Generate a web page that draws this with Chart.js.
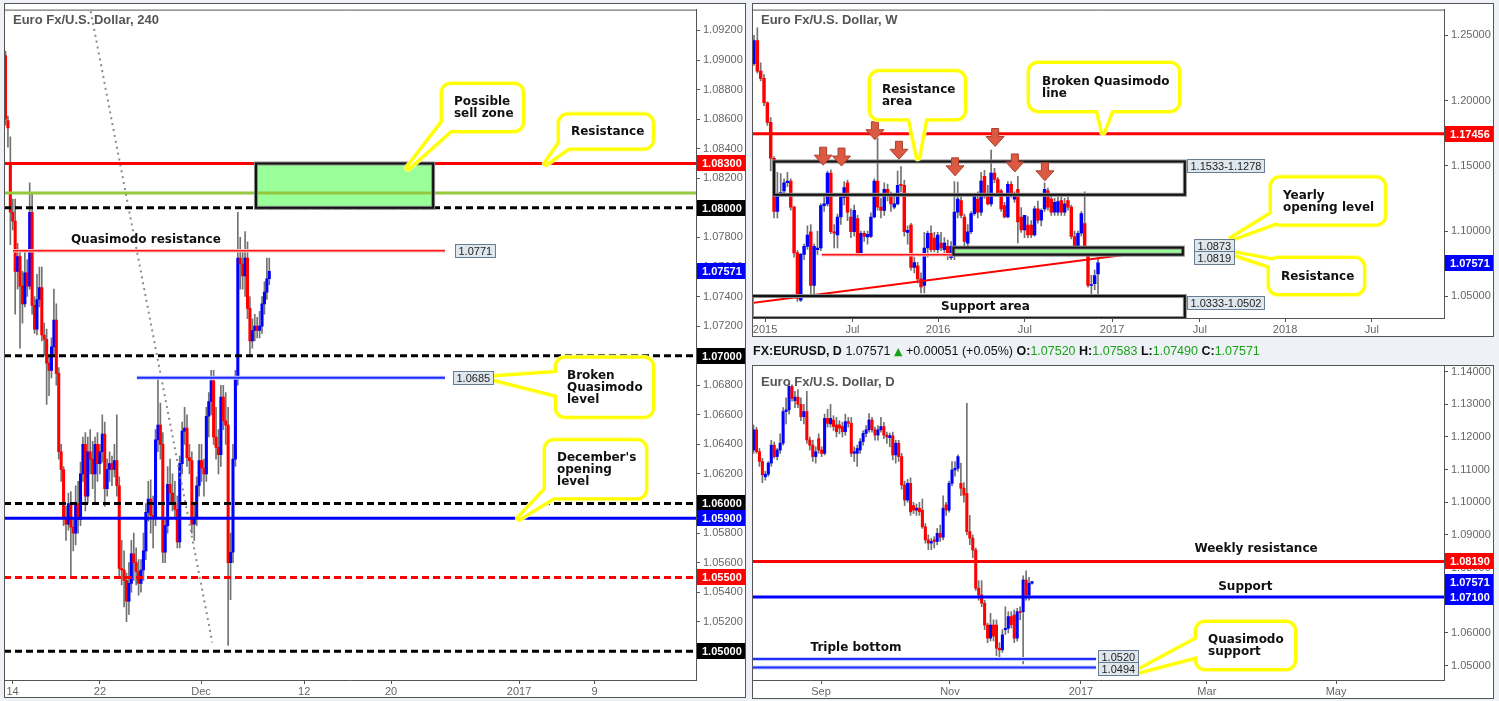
<!DOCTYPE html>
<html>
<head>
<meta charset="utf-8">
<title>EURUSD multi-timeframe</title>
<script src="https://cdn.jsdelivr.net/npm/chart.js@4.4.1/dist/chart.umd.min.js"></script>
<style>
body { margin: 0; background: #eef1f5; width: 1499px; height: 701px; overflow: hidden; position: relative; }
canvas { position: absolute; }
#hdr { position: absolute; left: 753px; top: 343px; font: 12.5px "Liberation Sans", sans-serif; white-space: nowrap; color: #111; line-height: 16px; z-index: 2; }
#hdr .g { color: #1aa31a; }
#hdr .tri { font-family: "DejaVu Sans"; font-size: 11px; color: #1aa31a; }
</style>
</head>
<body>
<canvas id="c4h" width="750" height="701" style="left:0;top:0"></canvas>
<canvas id="cW" width="749" height="340" style="left:750px;top:0"></canvas>
<canvas id="cD" width="749" height="361" style="left:750px;top:340px"></canvas>
<div id="hdr"><b>FX:EURUSD, D</b> 1.07571 <span class="tri">▲</span> +0.00051 (+0.05%) <b>O:</b><span class="g">1.07520</span> <b>H:</b><span class="g">1.07583</span> <b>L:</b><span class="g">1.07490</span> <b>C:</b><span class="g">1.07571</span></div>
<script>
// ---- 4 hour candles (Euro Fx/U.S. Dollar, 240)
const h4Open = [1.0903,1.0859,1.0830,1.0797,1.0791,1.0757,1.0767,1.0747,1.0735,1.0756,
  1.0747,1.0797,1.0734,1.0718,1.0738,1.0746,1.0714,1.0711,1.0695,1.0690,
  1.0706,1.0724,1.0688,1.0635,1.0623,1.0590,1.0586,1.0600,1.0584,1.0580,
  1.0600,1.0589,1.0620,1.0640,1.0605,1.0635,1.0630,1.0620,1.0640,1.0627,
  1.0635,1.0647,1.0610,1.0623,1.0627,1.0623,1.0629,1.0612,1.0556,1.0555,
  1.0548,1.0534,1.0546,1.0566,1.0560,1.0554,1.0546,1.0555,1.0568,1.0594,
  1.0603,1.0592,1.0590,1.0643,1.0653,1.0640,1.0567,1.0585,1.0613,1.0607,
  1.0600,1.0596,1.0574,1.0627,1.0649,1.0651,1.0631,1.0629,1.0586,1.0590,
  1.0612,1.0629,1.0624,1.0620,1.0659,1.0669,1.0683,1.0645,1.0638,1.0633,
  1.0672,1.0656,1.0653,1.0560,1.0567,1.0630,1.0684,1.0766,1.0762,1.0754,
  1.0766,1.0732,1.0710,1.0717,1.0720,1.0717,1.0720,1.0735,1.0743,1.0752];
const h4High = [1.0906,1.0862,1.0848,1.0806,1.0806,1.0776,1.0770,1.0757,1.0770,1.0765,
  1.0817,1.0810,1.0740,1.0755,1.0760,1.0760,1.0722,1.0718,1.0700,1.0712,
  1.0745,1.0735,1.0692,1.0640,1.0625,1.0598,1.0607,1.0608,1.0590,1.0612,
  1.0615,1.0628,1.0645,1.0648,1.0645,1.0650,1.0642,1.0645,1.0648,1.0640,
  1.0660,1.0655,1.0630,1.0635,1.0632,1.0640,1.0660,1.0618,1.0575,1.0568,
  1.0553,1.0560,1.0575,1.0580,1.0570,1.0562,1.0562,1.0580,1.0600,1.0615,
  1.0616,1.0605,1.0650,1.0685,1.0668,1.0648,1.0590,1.0625,1.0630,1.0620,
  1.0615,1.0605,1.0632,1.0655,1.0665,1.0660,1.0640,1.0635,1.0600,1.0618,
  1.0640,1.0640,1.0630,1.0665,1.0675,1.0690,1.0690,1.0665,1.0650,1.0680,
  1.0680,1.0675,1.0665,1.0580,1.0640,1.0690,1.0797,1.0780,1.0770,1.0784,
  1.0777,1.0740,1.0725,1.0728,1.0726,1.0730,1.0740,1.0750,1.0766,1.0766];
const h4Low = [1.0856,1.0841,1.0775,1.0785,1.0728,1.0745,1.0705,1.0722,1.0733,1.0740,
  1.0745,1.0728,1.0715,1.0714,1.0733,1.0710,1.0700,1.0667,1.0673,1.0685,
  1.0700,1.0680,1.0630,1.0615,1.0585,1.0575,1.0582,1.0550,1.0568,1.0572,
  1.0580,1.0585,1.0615,1.0595,1.0600,1.0620,1.0610,1.0600,1.0615,1.0620,
  1.0628,1.0598,1.0605,1.0615,1.0612,1.0618,1.0605,1.0550,1.0545,1.0530,
  1.0520,1.0525,1.0540,1.0548,1.0545,1.0538,1.0540,1.0548,1.0562,1.0588,
  1.0580,1.0570,1.0585,1.0635,1.0630,1.0560,1.0560,1.0580,1.0600,1.0595,
  1.0590,1.0570,1.0570,1.0620,1.0640,1.0625,1.0620,1.0580,1.0575,1.0585,
  1.0605,1.0615,1.0605,1.0615,1.0645,1.0660,1.0640,1.0630,1.0620,1.0625,
  1.0650,1.0640,1.0504,1.0535,1.0560,1.0625,1.0680,1.0745,1.0745,1.0740,
  1.0725,1.0700,1.0705,1.0710,1.0712,1.0712,1.0715,1.0728,1.0738,1.0748];
const h4Close = [1.0860,1.0854,1.0797,1.0791,1.0757,1.0767,1.0747,1.0735,1.0756,1.0747,
  1.0797,1.0734,1.0718,1.0738,1.0746,1.0714,1.0711,1.0695,1.0690,1.0706,
  1.0724,1.0688,1.0635,1.0623,1.0590,1.0586,1.0600,1.0584,1.0580,1.0600,
  1.0589,1.0620,1.0640,1.0605,1.0635,1.0630,1.0620,1.0640,1.0627,1.0635,
  1.0647,1.0610,1.0623,1.0627,1.0623,1.0629,1.0612,1.0556,1.0555,1.0548,
  1.0534,1.0546,1.0566,1.0560,1.0554,1.0546,1.0555,1.0568,1.0594,1.0603,
  1.0592,1.0590,1.0643,1.0653,1.0640,1.0567,1.0585,1.0613,1.0607,1.0600,
  1.0596,1.0574,1.0627,1.0649,1.0651,1.0631,1.0629,1.0586,1.0590,1.0612,
  1.0629,1.0624,1.0620,1.0659,1.0669,1.0683,1.0645,1.0638,1.0633,1.0672,
  1.0656,1.0653,1.0560,1.0567,1.0630,1.0684,1.0766,1.0762,1.0754,1.0766,
  1.0732,1.0710,1.0717,1.0720,1.0717,1.0720,1.0735,1.0743,1.0752,1.0757];
const h4TickPos = [2.9, 39.0, 80.8, 123.4, 159.3, 212.2, 243.4];
const h4TickText = ['14', '22', 'Dec', '12', '20', '2017', '9'];
const h4PriceTicks = [1.050,1.052,1.054,1.056,1.058,1.060,1.062,1.064,1.066,1.068,1.070,
  1.072,1.074,1.076,1.078,1.080,1.082,1.084,1.086,1.088,1.090,1.092];
const h4LevelPrices = [1.0830, 1.0810, 1.0800, 1.0771, 1.0700, 1.0685, 1.0600, 1.0590, 1.0550, 1.0500];
const h4Zone = [1.0800, 1.0830];
const h4ZoneBars = [103.5, 176.7];
const h4DotLine = [[35.2, 1.0933], [85.45, 1.0506]];

// ---- weekly candles (Euro Fx/U.S. Dollar, W)
const wOpen = [1.2282,1.2460,1.2225,1.2170,1.1983,1.1833,1.1558,1.1150,1.1285,1.1308,
  1.1370,1.1383,1.1183,1.0833,1.0471,1.0821,1.0883,1.0995,1.0583,1.0858,
  1.0870,1.1195,1.1208,1.1445,1.0995,1.0970,1.1108,1.1258,1.1370,1.1108,
  1.0995,1.1095,1.0830,1.0983,1.0955,1.0958,1.1108,1.1383,1.1183,1.1158,
  1.1320,1.1283,1.1183,1.1208,1.1358,1.1350,1.0990,1.1045,1.0721,1.0733,
  1.0633,1.0583,1.0870,1.0983,1.0946,1.0858,1.0908,1.0858,1.0883,1.0796,
  1.0870,1.1145,1.1233,1.1108,1.0908,1.0995,1.1133,1.1245,1.1145,1.1420,
  1.1270,1.1208,1.1445,1.1395,1.1308,1.1195,1.1108,1.1358,1.1245,1.1320,
  1.1108,1.1008,1.1045,1.1045,1.0970,1.1170,1.1083,1.1170,1.1308,1.1245,
  1.1145,1.1145,1.1233,1.1145,1.1233,1.1183,1.0958,1.0883,1.0983,1.1058,
  1.0833,1.0583,1.0596,1.0671];
const wHigh = [1.2500,1.2557,1.2290,1.2200,1.1990,1.1870,1.1570,1.1450,1.1440,1.1400,
  1.1450,1.1400,1.1190,1.0850,1.0830,1.0900,1.1040,1.1050,1.0900,1.1000,
  1.1210,1.1280,1.1460,1.1470,1.1050,1.1130,1.1280,1.1380,1.1390,1.1170,
  1.1200,1.1120,1.1000,1.1000,1.1000,1.1140,1.1400,1.1710,1.1250,1.1370,
  1.1360,1.1300,1.1290,1.1460,1.1495,1.1390,1.1040,1.1060,1.0800,1.0760,
  1.0680,1.0990,1.1000,1.1040,1.0990,1.0990,1.0990,1.0950,1.0930,1.0920,
  1.1380,1.1375,1.1280,1.1130,1.1050,1.1150,1.1280,1.1300,1.1450,1.1465,
  1.1350,1.1620,1.1480,1.1410,1.1320,1.1220,1.1380,1.1380,1.1300,1.1420,
  1.1180,1.1120,1.1110,1.1080,1.1190,1.1230,1.1170,1.1370,1.1330,1.1280,
  1.1250,1.1260,1.1280,1.1250,1.1260,1.1200,1.1000,1.1000,1.1150,1.1300,
  1.0860,1.0660,1.0700,1.0796];
const wLow = [1.2270,1.2210,1.2150,1.1960,1.1810,1.1460,1.1100,1.1100,1.1270,1.1280,
  1.1340,1.1160,1.0800,1.0460,1.0460,1.0780,1.0860,1.0520,1.0520,1.0820,
  1.0850,1.1150,1.1190,1.0980,1.0870,1.0870,1.1050,1.1200,1.1080,1.0950,
  1.0960,1.0810,1.0810,1.0920,1.0900,1.0950,1.1100,1.1160,1.1100,1.1120,
  1.1230,1.1150,1.1170,1.1200,1.1300,1.0960,1.0900,1.0700,1.0680,1.0600,
  1.0525,1.0525,1.0800,1.0840,1.0840,1.0820,1.0850,1.0820,1.0780,1.0780,
  1.0780,1.1100,1.1100,1.0860,1.0880,1.0980,1.1120,1.1100,1.1120,1.1250,
  1.1200,1.1190,1.1370,1.1280,1.1150,1.1100,1.1100,1.1260,1.1220,1.0910,
  1.0990,1.0950,1.0950,1.0950,1.0960,1.1060,1.1040,1.1150,1.1160,1.1120,
  1.1120,1.1120,1.1120,1.1120,1.1160,1.0940,1.0860,1.0850,1.0960,1.0840,
  1.0570,1.0520,1.0550,1.0505];
const wClose = [1.2460,1.2225,1.2170,1.1983,1.1833,1.1558,1.1150,1.1270,1.1295,1.1370,
  1.1383,1.1183,1.0833,1.0483,1.0821,1.0883,1.0970,1.0583,1.0883,1.0870,
  1.1195,1.1208,1.1445,1.0995,1.0983,1.1108,1.1258,1.1333,1.1145,1.0995,
  1.1158,1.0821,1.0983,1.0958,1.0975,1.1108,1.1383,1.1183,1.1158,1.1320,
  1.1283,1.1208,1.1208,1.1350,1.1350,1.0995,1.1005,1.0721,1.0758,1.0633,
  1.0571,1.0870,1.0983,1.0858,1.0858,1.0970,1.0870,1.0908,1.0821,1.0883,
  1.1145,1.1245,1.1120,1.0920,1.0995,1.1133,1.1270,1.1145,1.1383,1.1270,
  1.1208,1.1445,1.1395,1.1295,1.1170,1.1108,1.1358,1.1283,1.1283,1.1070,
  1.1008,1.1120,1.0970,1.0970,1.1170,1.1083,1.1158,1.1320,1.1183,1.1145,
  1.1220,1.1225,1.1145,1.1208,1.1183,1.0958,1.0883,1.0983,1.1133,1.0845,
  1.0583,1.0583,1.0658,1.0757];
const wTickPos = [3.3, 29.5, 55.1, 81.1, 107.2, 133.5, 159.0, 185.0];
const wTickText = ['2015', 'Jul', '2016', 'Jul', '2017', 'Jul', '2018', 'Jul'];
const wPriceTicks = [1.05, 1.10, 1.15, 1.20, 1.25];
const wLevelPrices = [1.17456, 1.0819];
const wResBox = [1.1278, 1.1533];
const wResBars = [6.0, 129.0];
const wYearZone = [1.0819, 1.0873];
const wYearBars = [59.7, 128.4];
const wSupBox = [1.0333, 1.0502];
const wSupBars = [-0.6, 129.0];
const wTrend = [[-1.2, 1.0446], [128.5, 1.0876]];
const wArrows = [[20.7, 1.1505], [26.2, 1.1498], [36.2, 1.1700], [43.4, 1.1550],
  [60.2, 1.1423], [72.2, 1.1648], [78.1, 1.1453], [87.1, 1.1385]];

// ---- daily candles (Euro Fx/U.S. Dollar, D)
const dOpen = [1.1160,1.1222,1.1155,1.1125,1.1078,1.1086,1.1120,1.1175,1.1140,1.1160,
  1.1181,1.1278,1.1283,1.1355,1.1311,1.1322,1.1300,1.1262,1.1278,1.1191,
  1.1175,1.1140,1.1195,1.1160,1.1150,1.1257,1.1240,1.1252,1.1237,1.1237,
  1.1232,1.1216,1.1247,1.1242,1.1150,1.1150,1.1160,1.1186,1.1211,1.1222,
  1.1252,1.1222,1.1206,1.1222,1.1232,1.1206,1.1198,1.1204,1.1145,1.1181,
  1.1140,1.1053,1.1007,1.1058,1.0990,1.0976,1.0982,1.0976,1.0925,1.0885,
  1.0875,1.0885,1.0880,1.0905,1.0893,1.0992,1.0976,1.1058,1.1099,1.1104,
  1.1058,1.1043,1.1027,1.0910,1.0890,1.0854,1.0737,1.0716,1.0691,1.0624,
  1.0584,1.0624,1.0624,1.0553,1.0548,1.0610,1.0614,1.0650,1.0655,1.0584,
  1.0665,1.0665,1.0762,1.0716,1.0752];
const dHigh = [1.1237,1.1230,1.1165,1.1135,1.1095,1.1125,1.1190,1.1185,1.1165,1.1210,
  1.1290,1.1320,1.1366,1.1360,1.1340,1.1345,1.1320,1.1300,1.1340,1.1200,
  1.1190,1.1170,1.1210,1.1170,1.1270,1.1285,1.1300,1.1265,1.1260,1.1250,
  1.1245,1.1270,1.1260,1.1260,1.1170,1.1175,1.1195,1.1220,1.1235,1.1272,
  1.1260,1.1230,1.1235,1.1260,1.1245,1.1215,1.1212,1.1215,1.1190,1.1190,
  1.1150,1.1065,1.1070,1.1075,1.1000,1.0995,1.1000,1.1010,1.0935,1.0900,
  1.0890,1.0895,1.0920,1.0930,1.1020,1.1000,1.1065,1.1125,1.1125,1.1145,
  1.1120,1.1060,1.1303,1.0960,1.0900,1.0860,1.0760,1.0760,1.0700,1.0630,
  1.0660,1.0640,1.0640,1.0570,1.0610,1.0680,1.0665,1.0665,1.0670,1.0675,
  1.0680,1.0775,1.0790,1.0770,1.0758];
const dLow = [1.1150,1.1150,1.1110,1.1060,1.1068,1.1080,1.1110,1.1135,1.1130,1.1150,
  1.1175,1.1240,1.1270,1.1310,1.1290,1.1290,1.1250,1.1240,1.1180,1.1160,
  1.1125,1.1120,1.1150,1.1140,1.1145,1.1230,1.1230,1.1220,1.1200,1.1210,
  1.1200,1.1205,1.1230,1.1140,1.1125,1.1110,1.1150,1.1175,1.1200,1.1215,
  1.1215,1.1190,1.1190,1.1215,1.1195,1.1180,1.1170,1.1130,1.1120,1.1125,
  1.1040,1.0990,1.1000,1.0960,1.0965,1.0960,1.0960,1.0920,1.0875,1.0855,
  1.0855,1.0860,1.0870,1.0880,1.0885,1.0960,1.0970,1.1050,1.1080,1.1095,
  1.1020,1.1000,1.0900,1.0870,1.0830,1.0730,1.0700,1.0680,1.0610,1.0570,
  1.0575,1.0575,1.0530,1.0518,1.0540,1.0595,1.0600,1.0615,1.0570,1.0575,
  1.0640,1.0505,1.0700,1.0700,1.0749];
const dClose = [1.1222,1.1155,1.1125,1.1084,1.1086,1.1120,1.1175,1.1140,1.1160,1.1181,
  1.1278,1.1283,1.1355,1.1318,1.1322,1.1300,1.1262,1.1278,1.1191,1.1175,
  1.1140,1.1155,1.1160,1.1150,1.1257,1.1242,1.1257,1.1232,1.1216,1.1227,
  1.1216,1.1247,1.1242,1.1150,1.1155,1.1165,1.1186,1.1211,1.1222,1.1252,
  1.1222,1.1206,1.1222,1.1232,1.1206,1.1200,1.1204,1.1145,1.1181,1.1140,
  1.1053,1.1007,1.1058,1.0971,1.0976,1.0982,1.0971,1.0925,1.0885,1.0875,
  1.0880,1.0880,1.0905,1.0893,1.0982,1.0976,1.1058,1.1099,1.1104,1.1140,
  1.1043,1.1022,1.0910,1.0890,1.0854,1.0737,1.0716,1.0691,1.0624,1.0584,
  1.0624,1.0590,1.0553,1.0548,1.0594,1.0614,1.0650,1.0625,1.0584,1.0665,
  1.0662,1.0762,1.0716,1.0752,1.0757];
const dTickPos = [22.8, 66.3, 110.5, 153.0, 196.6];
const dTickText = ['Sep', 'Nov', '2017', 'Mar', 'May'];
const dPriceTicks = [1.05, 1.06, 1.07, 1.08, 1.09, 1.10, 1.11, 1.12, 1.13, 1.14];
const dLevelPrices = [1.0819, 1.0710, 1.0520, 1.0494];
const dBottomBars = [-0.5, 115.6];

const lastPrice = 1.07571;

const RED = '#ff0000', BLUE = '#0000ff', BLACK = '#000000';
const DASH = [7, 4];


function roundRectPath(p, x, y, w, h, r) {
    p.moveTo(x + r, y);
    p.lineTo(x + w - r, y);
    p.arcTo(x + w, y, x + w, y + r, r);
    p.lineTo(x + w, y + h - r);
    p.arcTo(x + w, y + h, x + w - r, y + h, r);
    p.lineTo(x + r, y + h);
    p.arcTo(x, y + h, x, y + h - r, r);
    p.lineTo(x, y + r);
    p.arcTo(x, y, x + r, y, r);
    p.closePath();
}

function drawCallout(ctx, tx, ty, c) {
    const bx = tx + c.box[0], by = ty + c.box[1], bw = c.box[2], bh = c.box[3];
    const body = new Path2D();
    roundRectPath(body, bx, by, bw, bh, 8);
    const tail = new Path2D();
    tail.moveTo(bx + c.base[0][0], by + c.base[0][1]);
    tail.lineTo(tx, ty);
    tail.lineTo(bx + c.base[1][0], by + c.base[1][1]);
    tail.closePath();
    ctx.save();
    ctx.lineJoin = 'round';
    ctx.strokeStyle = 'rgba(255,255,140,0.9)';
    ctx.lineWidth = 8;
    ctx.stroke(body); ctx.stroke(tail);
    ctx.strokeStyle = '#ffff00';
    ctx.lineWidth = 6;
    ctx.stroke(body); ctx.stroke(tail);
    ctx.fillStyle = '#ffffff';
    ctx.fill(body); ctx.fill(tail);
    ctx.fillStyle = '#111';
    ctx.font = 'bold 12px "DejaVu Sans"';
    ctx.textAlign = 'left';
    ctx.textBaseline = 'middle';
    const y0 = by + bh / 2 - (c.lines.length - 1) * 6;
    c.lines.forEach((s, i) => ctx.fillText(s, bx + (c.pad || 11), y0 + i * 12 + 0.5));
    ctx.restore();
}

// draws levels, zones, notes and price tags for one panel
function overlay(ann) {
    return {
        id: 'overlay',
        beforeDraw(chart) {
            const ctx = chart.ctx, f = ann.frame;
            ctx.save();
            ctx.fillStyle = '#ffffff';
            ctx.fillRect(f[0], f[1], f[2] - f[0], f[3] - f[1]);
            ctx.restore();
        },
        afterDatasetsDraw(chart) {
            const {ctx, chartArea: a} = chart;
            const X = v => chart.scales.x.getPixelForValue(v);
            const Y = v => chart.scales.y.getPixelForValue(v);
            ctx.save();
            ctx.beginPath();
            ctx.rect(a.left, a.top, a.right - a.left, a.bottom - a.top);
            ctx.clip();
            const boxes = ann.boxes || [];
            boxes.forEach(b => {
                if (!b.fill) return;
                ctx.fillStyle = b.fill;
                ctx.fillRect(X(b.x[0]), Y(b.p[1]), X(b.x[1]) - X(b.x[0]), Y(b.p[0]) - Y(b.p[1]));
            });
            (ann.levels || []).forEach(l => {
                const x0 = l.x ? X(l.x[0]) : a.left, x1 = l.x ? X(l.x[1]) : a.right, y = Y(l.p);
                if (l.halo) {
                    ctx.setLineDash([]);
                    ctx.strokeStyle = l.halo;
                    ctx.lineWidth = l.w + 2;
                    ctx.beginPath(); ctx.moveTo(x0, y); ctx.lineTo(x1, y); ctx.stroke();
                }
                ctx.setLineDash(l.dash || []);
                ctx.strokeStyle = l.color;
                ctx.lineWidth = l.w;
                ctx.beginPath(); ctx.moveTo(x0, y); ctx.lineTo(x1, y); ctx.stroke();
            });
            ctx.setLineDash([]);
            boxes.forEach(b => {
                const x0 = X(b.x[0]), y0 = Y(b.p[1]), w = X(b.x[1]) - x0, h = Y(b.p[0]) - y0;
                ctx.strokeStyle = '#8c8c8c'; ctx.lineWidth = 4;
                ctx.strokeRect(x0, y0, w, h);
                ctx.strokeStyle = '#111'; ctx.lineWidth = 2;
                ctx.strokeRect(x0, y0, w, h);
            });
            (ann.arrows || []).forEach(p => {
                const x = X(p[0]), y = Y(p[1]);
                ctx.beginPath();
                ctx.moveTo(x, y);
                ctx.lineTo(x - 9, y - 10); ctx.lineTo(x - 3.5, y - 10); ctx.lineTo(x - 3.5, y - 18);
                ctx.lineTo(x + 3.5, y - 18); ctx.lineTo(x + 3.5, y - 10); ctx.lineTo(x + 9, y - 10);
                ctx.closePath();
                ctx.fillStyle = '#dc5a42'; ctx.fill();
                ctx.strokeStyle = '#a9402e'; ctx.lineWidth = 1; ctx.stroke();
            });
            ctx.font = 'bold 12px "DejaVu Sans"';
            ctx.fillStyle = '#111';
            ctx.textAlign = 'center';
            ctx.textBaseline = 'middle';
            (ann.texts || []).forEach(t => ctx.fillText(t.s, X(t.at[0]), Y(t.at[1])));
            ctx.restore();
        },
        afterDraw(chart) {
            const {ctx, chartArea: a} = chart;
            const X = v => chart.scales.x.getPixelForValue(v);
            const Y = v => chart.scales.y.getPixelForValue(v);
            ctx.save();
            (ann.callouts || []).forEach(c => drawCallout(ctx, X(c.tip[0]), Y(c.tip[1]), c));
            // value boxes on the chart, above the callout tips
            ctx.font = '11px "Liberation Sans"';
            ctx.textAlign = 'left';
            ctx.textBaseline = 'middle';
            (ann.labels || []).forEach(l => {
                const x = Math.round(X(l.at[0])), y = Math.round(Y(l.at[1]));
                const w = Math.round(ctx.measureText(l.s).width + 6);
                ctx.fillStyle = '#dfe7ee';
                ctx.fillRect(x, y - 7, w, 13);
                ctx.strokeStyle = '#687d91'; ctx.lineWidth = 1;
                ctx.strokeRect(x + 0.5, y - 6.5, w, 13);
                ctx.fillStyle = '#222';
                ctx.fillText(l.s, x + 3.5, y + 0.5);
            });
            // price tags on the axis
            ctx.font = 'bold 11px "Liberation Sans"';
            (ann.tags || []).forEach(t => {
                const y = Math.round(Y(t.p));
                ctx.fillStyle = t.bg;
                ctx.fillRect(a.right + 1, y - 8, 49, 16);
                ctx.fillStyle = '#ffffff';
                ctx.fillText(t.p.toFixed(5), a.right + 6, y + 0.5);
            });
            // title
            ctx.font = 'bold 13px "Liberation Sans"';
            ctx.fillStyle = '#555';
            ctx.fillText(ann.title.s, ann.title.x, ann.title.y);
            // frames
            const f = ann.frame;
            ctx.strokeStyle = '#555'; ctx.lineWidth = 1;
            ctx.strokeRect(f[0] + 0.5, f[1] + 0.5, f[2] - f[0] - 1, f[3] - f[1] - 1);
            ctx.beginPath();
            ctx.moveTo(a.left + 0.5, a.bottom); ctx.lineTo(a.left + 0.5, a.top + 0.5); ctx.lineTo(a.right, a.top + 0.5);
            ctx.stroke();
            ctx.restore();
        }
    };
}


function candleChart(id, s) {
    const wicks = [], bodies = [], colors = [];
    s.open.forEach((o, i) => {
        const c = s.close[i];
        wicks.push({x: i, y: [Math.min(s.low[i], o, c), Math.max(s.high[i], o, c)]});
        bodies.push({x: i, y: [o, c]});
        colors.push(c >= o ? BLUE : RED);
    });
    const datasets = [
        {type: 'bar', data: wicks, backgroundColor: '#727272', barThickness: 1, grouped: false, order: 3},
        {type: 'bar', data: bodies, backgroundColor: colors, barThickness: s.bodyW, minBarLength: 1, grouped: false, order: 2}
    ];
    (s.lines || []).forEach(l => datasets.push({
        type: 'line', data: l.pts.map(p => ({x: p[0], y: p[1]})), borderColor: l.color,
        borderWidth: l.w, borderDash: l.dash || [], pointRadius: 0, order: 1
    }));
    const axisGrid = {display: true, drawOnChartArea: false, drawTicks: true, tickLength: 4, color: '#555', offset: false};
    const tickFont = {family: 'Liberation Sans', size: 11};

    return new Chart(document.getElementById(id), {
        type: 'bar',
        data: {datasets},
        options: {
            responsive: false,
            animation: false,
            events: [],
            layout: {padding: s.pad},
            plugins: {legend: {display: false}, tooltip: {enabled: false}},
            scales: {
                x: {
                    type: 'linear', min: s.xMin, max: s.xMax, offset: false,
                    grid: axisGrid, border: {display: true, color: '#555'},
                    ticks: {autoSkip: false, maxRotation: 0, color: '#666', font: tickFont, padding: 1,
                        callback: (v, i) => s.xText[i]},
                    afterBuildTicks: sc => { sc.ticks = s.xPos.map(v => ({value: v})); },
                    afterFit: sc => { sc.height = s.xH; }
                },
                y: {
                    type: 'linear', position: 'right', min: s.yMin, max: s.yMax,
                    grid: axisGrid, border: {display: true, color: '#555'},
                    ticks: {color: '#666', font: tickFont, padding: 3, callback: v => v.toFixed(5)},
                    afterBuildTicks: sc => { sc.ticks = s.yTicks.map(v => ({value: v})); },
                    afterFit: sc => { sc.width = 50; }
                }
            }
        },
        plugins: [overlay(s.ann)]
    });
}


// 4 hour panel
candleChart('c4h', {
    open: h4Open, high: h4High, low: h4Low, close: h4Close, bodyW: 2.4,
    pad: {left: 4, top: 3, right: 4, bottom: 3}, xH: 18,
    xMin: -0.62, xMax: 285.33, xPos: h4TickPos, xText: h4TickText,
    yMin: 1.04806, yMax: 1.09341, yTicks: h4PriceTicks,
    lines: [{pts: h4DotLine, color: '#8a8a8a', w: 2, dash: [2, 4]}],
    ann: {
        frame: [4, 3, 746, 698],
        title: {s: 'Euro Fx/U.S. Dollar, 240', x: 13, y: 20},
        boxes: [{x: h4ZoneBars, p: h4Zone, fill: '#99ff99'}],
        levels: [
            {p: h4LevelPrices[0], color: RED, w: 3},
            {p: h4LevelPrices[1], color: '#93c83f', w: 3},
            {p: h4LevelPrices[2], color: BLACK, w: 3, dash: DASH},
            {p: h4LevelPrices[3], color: '#ff1a1a', w: 1.5, halo: '#ffc4c4', x: [3.1, 181.6]},
            {p: h4LevelPrices[4], color: BLACK, w: 3, dash: DASH},
            {p: h4LevelPrices[5], color: '#1f2eff', w: 2, halo: '#c4c9ff', x: [54.3, 181.6]},
            {p: h4LevelPrices[6], color: BLACK, w: 3, dash: DASH},
            {p: h4LevelPrices[7], color: BLUE, w: 3},
            {p: h4LevelPrices[8], color: RED, w: 3, dash: DASH},
            {p: h4LevelPrices[9], color: BLACK, w: 3, dash: DASH}
        ],
        texts: [{s: 'Quasimodo resistance', at: [58.0, 1.0778]}],
        labels: [
            {s: h4LevelPrices[3].toFixed(4), at: [185.7, h4LevelPrices[3]]},
            {s: h4LevelPrices[5].toFixed(4), at: [184.9, h4LevelPrices[5]]}
        ],
        tags: [
            {p: h4LevelPrices[0], bg: RED}, {p: h4LevelPrices[2], bg: BLACK},
            {p: lastPrice, bg: BLUE}, {p: h4LevelPrices[4], bg: BLACK},
            {p: h4LevelPrices[6], bg: BLACK}, {p: h4LevelPrices[7], bg: BLUE},
            {p: h4LevelPrices[8], bg: RED}, {p: h4LevelPrices[9], bg: BLACK}
        ],
        callouts: [
            {tip: [166.3, 1.0827], box: [35, -83, 79, 45], base: [[4, 32], [12, 41]], lines: ['Possible', 'sell zone']},
            {tip: [223.3, 1.0830], box: [14, -48, 92, 32], base: [[4, 22], [14, 28]], lines: ['Resistance']},
            {tip: [200.2, 1.0685], box: [67, -19, 95, 57], base: [[4, 14], [4, 37]], lines: ['Broken', 'Quasimodo', 'level'], pad: 10},
            {tip: [212.2, 1.0590], box: [27, -77, 99, 56], base: [[4, 44], [14, 52]], lines: ["December's", 'opening', 'level']}
        ]
    }
});

// weekly panel
candleChart('cW', {
    open: wOpen, high: wHigh, low: wLow, close: wClose, bodyW: 2.8,
    pad: {left: 2, top: 3, right: 5, bottom: 3}, xH: 19,
    xMin: -0.6, xMax: 206.59, xPos: wTickPos, xText: wTickText,
    yMin: 1.03337, yMax: 1.26971, yTicks: wPriceTicks,
    lines: [{pts: wTrend, color: RED, w: 2}],
    ann: {
        frame: [2, 3, 744, 337],
        title: {s: 'Euro Fx/U.S. Dollar, W', x: 11, y: 20},
        boxes: [
            {x: wResBars, p: wResBox},
            {x: wYearBars, p: wYearZone, fill: '#99ff99'},
            {x: wSupBars, p: wSupBox}
        ],
        levels: [
            {p: wLevelPrices[0], color: RED, w: 3},
            {p: wLevelPrices[1], color: '#ff1a1a', w: 1.5, halo: '#ffc4c4', x: [20.3, 59.7]}
        ],
        arrows: wArrows,
        texts: [{s: 'Support area', at: [69.3, 1.0421]}],
        labels: [
            {s: wResBox[1].toFixed(4) + '-' + wResBox[0].toFixed(4), at: [129.6, 1.1498]},
            {s: wYearZone[1].toFixed(4), at: [131.7, 1.0883]},
            {s: wYearZone[0].toFixed(4), at: [131.7, 1.0793]},
            {s: wSupBox[0].toFixed(4) + '-' + wSupBox[1].toFixed(4), at: [129.6, 1.0446]}
        ],
        tags: [{p: wLevelPrices[0], bg: RED}, {p: lastPrice, bg: BLUE}],
        callouts: [
            {tip: [49.1, 1.1565], box: [-47, -85, 93, 46], base: [[38, 42], [55, 42]], lines: ['Resistance', 'area']},
            {tip: [104.5, 1.1760], box: [-73, -68, 148, 46], base: [[67, 42], [83, 42]], lines: ['Broken Quasimodo', 'line'], pad: 12},
            {tip: [143.1, 1.0943], box: [40, -60, 112, 45], base: [[4, 33], [12, 41]], lines: ['Yearly', 'opening level']},
            {tip: [143.1, 1.0831], box: [38, 6, 93, 34], base: [[4, 8], [16, 4]], lines: ['Resistance']}
        ]
    }
});

// daily panel
candleChart('cD', {
    open: dOpen, high: dHigh, low: dLow, close: dClose, bodyW: 2.4,
    pad: {left: 2, top: 25, right: 5, bottom: 3}, xH: 18,
    xMin: -0.506, xMax: 233.04, xPos: dTickPos, xText: dTickText,
    yMin: 1.04557, yMax: 1.14205, yTicks: dPriceTicks,
    ann: {
        frame: [2, 25, 744, 359],
        title: {s: 'Euro Fx/U.S. Dollar, D', x: 11, y: 42},
        levels: [
            {p: dLevelPrices[0], color: RED, w: 3},
            {p: dLevelPrices[1], color: BLUE, w: 3},
            {p: dLevelPrices[2], color: '#1f2eff', w: 2, halo: '#c4d0ff', x: dBottomBars},
            {p: dLevelPrices[3], color: '#1f2eff', w: 2, halo: '#c4d0ff', x: dBottomBars}
        ],
        texts: [
            {s: 'Weekly resistance', at: [169.6, 1.0856]},
            {s: 'Support', at: [166.0, 1.0742]},
            {s: 'Triple bottom', at: [34.6, 1.0554]}
        ],
        labels: [
            {s: dLevelPrices[2].toFixed(4), at: [116.3, 1.0526]},
            {s: dLevelPrices[3].toFixed(4), at: [116.3, 1.0489]}
        ],
        tags: [{p: dLevelPrices[0], bg: RED}, {p: lastPrice, bg: BLUE}, {p: dLevelPrices[1], bg: BLUE}],
        callouts: [
            {tip: [129.1, 1.0480], box: [61, -49, 97, 45], base: [[4, 14], [4, 32]], lines: ['Quasimodo', 'support']}
        ]
    }
});
</script>
</body>
</html>
